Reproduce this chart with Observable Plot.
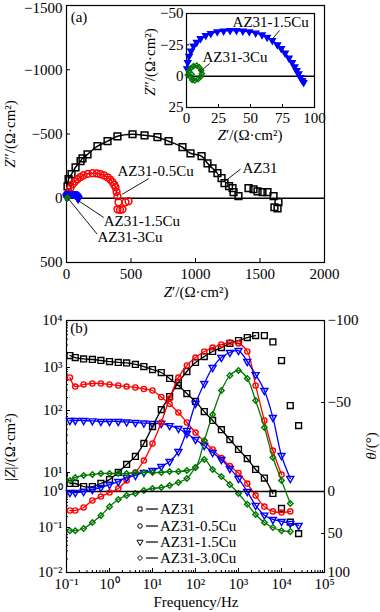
<!DOCTYPE html>
<html><head><meta charset="utf-8">
<script src="https://cdn.jsdelivr.net/npm/d3@7"></script>
<script src="https://cdn.jsdelivr.net/npm/@observablehq/plot@0.6"></script>
<style>
html,body{margin:0;padding:0;background:#fff;}
#wrap{position:relative;width:380px;height:612px;overflow:hidden;font-family:"Liberation Serif","Times New Roman",Times,serif;color:#000;}
#wrap > svg{position:absolute;left:0;top:0;}
.t{position:absolute;font-size:15px;white-space:nowrap;line-height:1;transform:translate(-50%,-50%);}
.r{transform:translate(-50%,-50%) rotate(-90deg);}
</style></head><body><div id="wrap"></div>
<script>
// ---------- Panel (a): Nyquist data [Z', Z''] (Ω·cm²) ----------
const nyqAZ31 = [[8,-93],[16,-148],[39,-187],[70,-241],[109,-288],[124,-311],[163,-342],[240,-405],[318,-444],[395,-482],[512,-498],[605,-490],[705,-475],[791,-444],[899,-397],[961,-350],[1047,-327],[1093,-272],[1132,-233],[1170,-195],[1202,-156],[1225,-117],[1260,-95],[1287,-78],[1295,-47],[1333,-16],[1411,-78],[1450,-70],[1481,-54],[1519,-47],[1558,-47],[1605,-16],[1612,70],[1636,78],[1643,31]];
const nyqCu05 = [[5,-20],[16,-47],[30,-80],[47,-109],[65,-130],[85,-148],[108,-165],[132,-179],[165,-190],[202,-195],[235,-193],[264,-187],[292,-177],[318,-163],[340,-145],[357,-125],[370,-105],[380,-86],[388,-50],[395,-16],[403,31],[395,86],[415,90],[434,86],[457,31],[481,23]];
const nyqCu15 = [[0.5,-6],[1,-11],[2,-16],[3.5,-20],[5.5,-24],[8,-27],[11,-30],[15,-32.5],[19,-34],[24,-35.5],[29,-36],[34,-36.5],[39,-36.5],[44,-36],[49,-35.5],[54,-34.5],[59,-33],[63,-31],[67,-28.5],[71,-25],[74,-22],[77,-18.5],[80,-14.5],[82.5,-11],[84.5,-7.5],[86,-4.5],[87.5,-2],[89,1],[90.5,3.5],[91.5,5]];
const nyqCu3 = [[1,-1],[2,-4],[3.5,-6.5],[5.5,-8],[8,-8.5],[10,-7],[11.5,-4.5],[12,-2],[11,0.5],[9,2.5],[6.5,3.5],[4.5,3],[3.5,1],[4,-1.5]];
const nyqLabels = ["AZ31","AZ31-0.5Cu","AZ31-1.5Cu","AZ31-3Cu"];
const insetLabels = ["AZ31-1.5Cu","AZ31-3Cu"];
const nyqXTicks = [0,500,1000,1500,2000];
const nyqYTicks = [-1500,-1000,-500,0,500];
const insetXTicks = [0,25,50,75,100];
const insetYTicks = [-50,-25,0,25];

// ---------- Panel (b): Bode data ----------
const freq = [0.12,0.16,0.25,0.4,0.63,1,1.6,2.5,4,6.3,10,16,25,40,63,100,160,250,400,630,1000,1600,2500,4000,6300,10000,16000,25000];
const zAZ31 = [1800,1630,1520,1480,1410,1340,1280,1250,1160,1050,898,765,555,381,248,162,96,69,49,34,23.5,16.8,11.2,5.1,0.88,0.34,0.14,0.073];
const zCu05 = [585,361,403,425,425,403,381,361,343,316,292,206,142,93,64,44,31.6,23.5,17.1,12.7,9.4,2.6,0.77,0.38,0.28,0.26,0.28,null];
const zCu15 = [69,69,69,68,66.5,66.5,66.5,65.3,64,62.8,61.6,61.6,57,51.3,42.6,34,27.2,21,16.2,11.6,4.8,1.0,0.41,0.22,0.167,0.147,0.13,0.114];
const zCu3 = [0.085,0.085,0.095,0.138,0.215,0.38,0.6,0.77,0.88,1.13,1.44,1.62,2.07,2.98,4.8,12,16.2,11.2,6.2,2.3,0.88,0.44,0.23,0.138,0.1,0.085,0.081,null];
const thAZ31 = [-4.5,-4.5,-2.8,-2.8,-4.5,-6.7,-10.7,-15.2,-19.7,-27,-36.5,-46,-53.6,-62.2,-68.9,-74.4,-78,-81.1,-83.5,-86,-87.8,-89.6,-90.8,-90.8,-86.9,-75.6,-48.3,-37];
const thCu05 = [22.6,22.6,19,10.7,6,1.2,-1.7,-6.2,-10.7,-17.4,-27,-38.8,-52.4,-65.2,-72.6,-77.4,-81.1,-83.5,-85.4,-86.6,-86,-81.1,-60.4,-39.9,-23,-9.5,null,null];
const thCu15 = [1.2,1.2,0,-1.1,-2.2,-3.9,-5.6,-7.9,-9,-10.7,-11.8,-14,-16.8,-22.5,-34.3,-49.4,-61.6,-71.3,-77.4,-80.5,-81.7,-75,-67,-57.3,-41.6,-20.2,-7.3,null];
const thCu3 = [-6.2,-7.9,-9,-9.5,-10.1,-10.1,-10.1,-10.1,-10.7,-10.7,-10.7,-10.7,-11.2,-11.2,-11.8,-13.5,-28.6,-43.3,-57.3,-66.4,-69.5,-64.6,-51.2,-36,-19.1,-6.2,14.3,null];
const legendNames = ["AZ31","AZ31-0.5Cu","AZ31-1.5Cu","AZ31-3.0Cu"];
const zMajor = [0.01,0.1,1,10,100,1000,10000];
const thTicks = [-100,-50,0,50,100];
const fMajor = [0.1,1,10,100,1000,10000,100000];

// ---------- layout / style (kept apart from the data) ----------
const FONT = '"Liberation Serif","Times New Roman",Times,serif';
const C = ["#000000","#ff0000","#0000ff","#007800"];
const SYM = ["square","circle","triangle","diamond2"];
const ROT = [0,0,180,0];
const baseStyle = {background:"transparent", fontFamily:FONT, fontSize:"15px", color:"#000", overflow:"visible"};
const minus = d => d < 0 ? "\u2212" + Math.abs(d) : String(d);
const plain = d => String(d);
const SUP = {"-":"\u207B","0":"\u2070","1":"\u00B9","2":"\u00B2","3":"\u00B3","4":"\u2074","5":"\u2075","6":"\u2076","7":"\u2077","8":"\u2078","9":"\u2079"};
const pow10 = d => "10" + String(Math.round(Math.log10(d))).split("").map(c => SUP[c]).join("");
const minorsOf = majors => { const out=[]; for (let i=0;i<majors.length-1;i++) for (let k=2;k<10;k++) out.push(majors[i]*k); return out; };
const wrap = document.getElementById("wrap");
const rowsOf = (arr, s) => arr.map(([x,y]) => ({x, y, s}));

// Panel (b) axes in the reference are unevenly spaced: calibration of tick positions (px, top=320, bottom=572)
const B_TOP = 320, B_BOT = 572;
const zKnotPx = [572,527,491,472,410,367,320];     // for zMajor
const thKnotPx = [320,402,491,533,572];            // for thTicks
const frac = p => (B_BOT - p) / (B_BOT - B_TOP);
const zWarp = d3.scaleLog().domain(zMajor).range(zKnotPx.map(p => 0.01 + (10000 - 0.01) * frac(p)));
const thWarp = d3.scaleLinear().domain(thTicks).range(thKnotPx.map(p => 100 - 200 * frac(p)));

// ---------- panel (a) main ----------
const nyq = [nyqAZ31, nyqCu05, nyqCu15, nyqCu3].map(rowsOf);
const fitN = [20, 20, 30, 14];
const mainR = [3.8, 3.4, 2.3, 1.6];
const labelPos = [[1364,-233],[395,-210],[289,179],[240,303]];
const leaders = [[1248,-148,1349,-226],[432,-31,638,-153],[95,21,289,150],[18,8,238,280]];
const labRows = nyqLabels.map((t,i)=>({t, x:labelPos[i][0], y:labelPos[i][1]}));
const leadRows = leaders.map(([x1,y1,x2,y2])=>({x1,y1,x2,y2}));

const marksA = [
  Plot.frame({stroke:"#000", strokeWidth:1.2}),
  Plot.axisX({ticks:nyqXTicks, tickSize:-4, tickPadding:10, tickFormat:plain, label:null}),
  Plot.axisY({ticks:nyqYTicks, tickSize:-4, tickFormat:()=>"", label:null}),
  Plot.axisY({ticks:nyqYTicks.slice(1), tickSize:0, tickPadding:4, tickFormat:minus, label:null}),
  Plot.axisY({ticks:nyqYTicks.slice(0,1), tickSize:0, tickPadding:4, tickFormat:minus, label:null, dy:3}),
  Plot.ruleY([0], {stroke:"#000", strokeWidth:1.5})
];
nyq.forEach((rows,i) => {
  marksA.push(Plot.line(rows.slice(0, fitN[i]), {x:"x", y:"y", stroke:C[i], strokeWidth:1.5, curve:"catmull-rom"}));
  marksA.push(Plot.dot(rows, {x:"x", y:"y", symbol:SYM[i], r:mainR[i], stroke:C[i], strokeWidth:1.5, fill:"none", rotate:ROT[i]}));
});
marksA.push(Plot.link(leadRows, {x1:"x1", y1:"y1", x2:"x2", y2:"y2", stroke:"#000", strokeWidth:0.9}));
marksA.push(Plot.text(labRows, {x:"x", y:"y", text:"t", textAnchor:"start", lineAnchor:"middle", fontSize:15}));

wrap.appendChild(Plot.plot({
  width:380, height:612, marginLeft:66, marginRight:56, marginTop:5, marginBottom:350,
  style:baseStyle,
  x:{domain:[0,2000], label:null}, y:{domain:[500,-1500], label:null},
  marks:marksA
}));

// ---------- panel (a) inset ----------
const insetPos = [[36,-43],[12.5,-15]];
const insetLead = [[65.6,-27.7,72.7,-36.5],[10.4,-3.5,18.2,-10.2]];
const marksI = [
  Plot.frame({stroke:"#000", strokeWidth:1.2, fill:"white"}),
  Plot.axisX({ticks:insetXTicks, tickSize:-3, tickPadding:8, tickFormat:plain, label:null}),
  Plot.axisY({ticks:insetYTicks, tickSize:-3, tickPadding:6, tickFormat:minus, label:null}),
  Plot.ruleY([0], {stroke:"#000", strokeWidth:1.5})
];
[2,3].forEach(i => {
  marksI.push(Plot.line(nyq[i], {x:"x", y:"y", stroke:C[i], strokeWidth:1.6, curve:"catmull-rom"}));
  marksI.push(Plot.dot(nyq[i], {x:"x", y:"y", symbol:SYM[i], r:2.3, stroke:C[i], strokeWidth:1.4, fill: i===2 ? C[i] : "none", rotate:ROT[i]}));
});
marksI.push(Plot.link(insetLead.map(([x1,y1,x2,y2])=>({x1,y1,x2,y2})), {x1:"x1", y1:"y1", x2:"x2", y2:"y2", stroke:"#000", strokeWidth:0.9}));
marksI.push(Plot.text(insetLabels.map((t,i)=>({t, x:insetPos[i][0], y:insetPos[i][1]})), {x:"x", y:"y", text:"t", textAnchor:"start", lineAnchor:"middle", fontSize:15}));
wrap.appendChild(Plot.plot({
  width:380, height:612, marginLeft:186, marginRight:66, marginTop:13, marginBottom:505,
  style:baseStyle,
  x:{domain:[0,100], label:null}, y:{domain:[25,-50], label:null},
  marks:marksI
}));

// ---------- panel (b): |Z| ----------
const zs = [zAZ31, zCu05, zCu15, zCu3];
const ths = [thAZ31, thCu05, thCu15, thCu3];
const bodeR = [3.3, 2.6, 2.6, 2.5];
const lineMaxZ = [6300, Infinity, Infinity, Infinity];
const lineMaxTh = [2500, Infinity, Infinity, Infinity];
// axis ticks are placed at warped positions, their labels read back the original values
const zTickFmt = u => pow10(zWarp.invert(u));
const thTickFmt = u => minus(Math.round(thWarp.invert(u)));
const marksZ = [
  Plot.frame({stroke:"#000", strokeWidth:1.2}),
  Plot.axisX({ticks:fMajor, tickSize:-4, tickPadding:10, tickFormat:pow10, label:null}),
  Plot.axisX({ticks:minorsOf(fMajor), tickSize:-2, tickFormat:()=>"", label:null}),
  Plot.axisY({ticks:zMajor.map(zWarp), tickSize:-4, tickPadding:8, tickFormat:zTickFmt, label:null}),
  Plot.axisY({ticks:minorsOf(zMajor).map(zWarp), tickSize:-2, tickFormat:()=>"", label:null})
];
zs.forEach((arr,i) => {
  const rows = freq.map((f,j)=>({f, v:arr[j]})).filter(d => d.v != null);
  marksZ.push(Plot.line(rows.filter(d=>d.f<=lineMaxZ[i]), {x:"f", y:"v", stroke:C[i], strokeWidth:1.3, curve:"catmull-rom"}));
  marksZ.push(Plot.dot(rows, {x:"f", y:"v", symbol:SYM[i], r:bodeR[i], stroke:C[i], strokeWidth:1.4, fill:"none", rotate:ROT[i]}));
});
wrap.appendChild(Plot.plot({
  width:380, height:612, marginLeft:66, marginRight:56, marginTop:B_TOP, marginBottom:612-B_BOT,
  style:baseStyle,
  x:{type:"log", domain:[0.1,100000], label:null},
  y:{type:"linear", transform:zWarp, domain:[0.01,10000], label:null},
  marks:marksZ
}));

// ---------- panel (b): phase ----------
const marksT = [
  Plot.axisY({anchor:"right", ticks:thTicks.map(thWarp), tickSize:-4, tickPadding:7, tickFormat:thTickFmt, label:null}),
  Plot.ruleY([0], {stroke:"#000", strokeWidth:1.5})
];
ths.forEach((arr,i) => {
  const rows = freq.map((f,j)=>({f, v:arr[j]})).filter(d => d.v != null);
  marksT.push(Plot.line(rows.filter(d=>d.f<=lineMaxTh[i]), {x:"f", y:"v", stroke:C[i], strokeWidth:1.3, curve:"catmull-rom"}));
  marksT.push(Plot.dot(rows, {x:"f", y:"v", symbol:SYM[i], r:bodeR[i], stroke:C[i], strokeWidth:1.4, fill:"none", rotate:ROT[i]}));
});
wrap.appendChild(Plot.plot({
  width:380, height:612, marginLeft:66, marginRight:56, marginTop:B_TOP, marginBottom:612-B_BOT,
  style:baseStyle,
  x:{type:"log", domain:[0.1,100000], axis:null},
  y:{type:"linear", transform:thWarp, domain:[100,-100], label:null},
  marks:marksT
}));

// ---------- legend (panel b) ----------
const leg = d3.select(wrap).append("svg").attr("width",380).attr("height",612);
const legY = [509,526,542,558];
legendNames.forEach((name,i) => {
  const g = leg.append("g").attr("transform", `translate(0,${legY[i]})`);
  const sym = [d3.symbolSquare, d3.symbolCircle, d3.symbolTriangle, d3.symbolDiamond2][i];
  g.append("path").attr("d", d3.symbol(sym, 16)()).attr("transform", `translate(140,0) rotate(${ROT[i]})`)
    .attr("fill","none").attr("stroke","#000").attr("stroke-width",1);
  g.append("line").attr("x1",146).attr("x2",158).attr("y1",0).attr("y2",0).attr("stroke","#000").attr("stroke-width",1.2);
  g.append("text").attr("x",160).attr("y",0).attr("dy","0.35em").attr("font-family",FONT).attr("font-size",15).text(name);
});

// ---------- titles ----------
const titles = [
  {html:"(a)", x:79, y:17, rot:false},
  {html:"(b)", x:79, y:328, rot:false},
  {html:"<i>Z</i>\u2032/(\u03A9\u00B7cm\u00B2)", x:196, y:292, rot:false},
  {html:"<i>Z</i>\u2033/(\u03A9\u00B7cm\u00B2)", x:10, y:134, rot:true},
  {html:"<i>Z</i>\u2032/(\u03A9\u00B7cm\u00B2)", x:250, y:135, rot:false},
  {html:"<i>Z</i>\u2033/(\u03A9\u00B7cm\u00B2)", x:150, y:62, rot:true},
  {html:"Frequency/Hz", x:196, y:602, rot:false},
  {html:"|<i>Z</i>|/(\u03A9\u00B7cm\u00B2)", x:10, y:447, rot:true},
  {html:"<i>\u03B8</i>/(\u00B0)", x:371, y:446, rot:true}
];
titles.forEach(t => {
  const d = document.createElement("div");
  d.className = "t" + (t.rot ? " r" : "");
  d.style.left = t.x + "px"; d.style.top = t.y + "px";
  d.innerHTML = t.html;
  wrap.appendChild(d);
});
</script></body></html>
